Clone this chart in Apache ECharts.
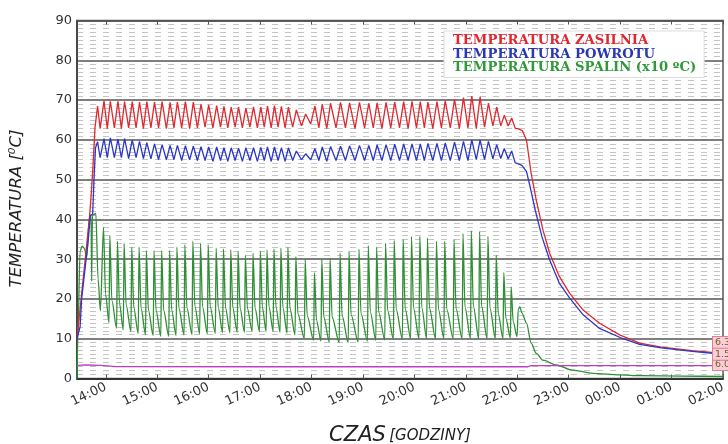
<!DOCTYPE html>
<html><head><meta charset="utf-8">
<script src="https://cdn.jsdelivr.net/npm/echarts@6/dist/echarts.min.js"></script>
<style>html,body{margin:0;padding:0;background:#fff}#c{width:728px;height:444px}</style>
</head><body><div id="c"></div>
<script>
// hour ticks (14:00 .. 02:00 next day as 14..26)
const hourTicks = [14,15,16,17,18,19,20,21,22,23,24,25,26];
const seriesNames = ['TEMPERATURA ZASILNIA','TEMPERATURA POWROTU','TEMPERATURA SPALIN (x10 ºC)'];
const endTags = ['6.3','1.5','6.0'];

// supply temperature (red) [hour, °C]
const supplyTemp = [[13.44,10],[13.46,10.5],[13.52,20],[13.60,30],[13.68,40],[13.72,47],[13.735,47.5],[13.745,52],[13.79,63],[13.84,68.5],[13.89,62.8],
[13.965,69.8],[14.029,62.8],[14.088,69.7],[14.167,63],[14.236,69.7],[14.303,62.8],[14.365,69.6],[14.444,63],[14.514,69.6],[14.589,63],
[14.656,69.5],[14.731,62.8],[14.798,69.6],[14.877,63],[14.947,69.5],[15.026,63],[15.095,69.6],[15.178,62.8],[15.250,69.4],[15.325,63],
[15.392,69.5],[15.475,63],[15.547,69.6],[15.630,62.8],[15.702,69.5],[15.781,63],[15.851,69],[15.930,63.2],[16.000,68.8],[16.083,63],
[16.155,68.6],[16.230,63.2],[16.297,68.4],[16.372,63],[16.439,68.2],[16.514,63.2],[16.581,68.2],[16.656,63],[16.723,68],[16.802,63.2],
[16.872,68.3],[16.947,63],[17.014,68.2],[17.081,63.2],[17.143,68.5],[17.215,63],[17.279,68.6],[17.350,63.2],[17.414,68.4],[17.486,63],
[17.550,68.2],[17.633,63.2],[17.705,67.5],[17.804,63.5],[17.886,66.5],[17.984,64],[18.066,68.5],[18.142,63],[18.209,69],[18.296,62.8],
[18.370,69.2],[18.476,63],[18.564,69.4],[18.659,63],[18.739,69.3],[18.845,62.8],[18.932,69.4],[19.031,63],[19.113,69.2],[19.200,63],
[19.275,69.3],[19.369,62.8],[19.449,69.4],[19.540,63],[19.617,69.5],[19.711,63],[19.791,69.6],[19.878,62.8],[19.953,69.7],[20.040,63],
[20.115,69.6],[20.194,63],[20.263,69.5],[20.358,62.8],[20.438,69.6],[20.525,63],[20.599,69.8],[20.698,63],[20.780,70.2],[20.874,62.8],
[20.954,70.6],[21.041,63],[21.116,71],[21.203,62.8],[21.277,70.8],[21.364,63.2],[21.439,69.2],[21.526,63.5],[21.600,68.2],[21.679,63.5],
[21.748,66.2],[21.824,63.5],[21.891,65.5],[21.96,62.9],
[22.01,62.8],[22.1,62.3],[22.18,59.9],[22.27,51.6],[22.37,44.8],[22.50,37.3],[22.63,31.5],[22.82,25.6],[23.02,21.4],[23.28,17.2],
[23.6,13.9],[24.0,10.9],[24.38,8.9],[24.8,7.9],[25.4,7.0],[26,6.3]];

// return temperature (blue)
const returnTemp = [[13.44,10],[13.47,10.5],[13.50,13],[13.53,20],[13.60,28],[13.66,35],[13.70,41],[13.745,41.3],[13.77,50],[13.80,58],[13.84,59.5],[13.89,55.5],
[13.965,60.3],[14.029,55.5],[14.088,60.5],[14.167,55.5],[14.236,60.2],[14.303,55.5],[14.365,60.3],[14.444,55.3],[14.514,60],[14.589,55.5],
[14.656,59.6],[14.731,55.3],[14.798,59.3],[14.877,55.2],[14.947,59],[15.026,55],[15.095,58.8],[15.178,55],[15.250,58.6],[15.325,55],
[15.392,58.6],[15.475,54.8],[15.547,58.5],[15.630,55],[15.702,58.4],[15.781,54.8],[15.851,58.3],[15.930,54.8],[16.000,58.2],[16.083,54.6],
[16.155,58.2],[16.230,54.8],[16.297,58],[16.372,54.6],[16.439,58],[16.514,54.8],[16.581,57.9],[16.656,54.6],[16.723,58],[16.802,54.8],
[16.872,58],[16.947,54.6],[17.014,58.1],[17.081,54.8],[17.143,58.2],[17.215,54.6],[17.279,58.2],[17.350,54.8],[17.414,58],[17.486,54.6],
[17.550,58],[17.633,54.8],[17.705,57.2],[17.804,55],[17.886,56.5],[17.984,55],[18.066,57.8],[18.142,54.8],[18.209,58.2],[18.296,54.6],
[18.370,58.3],[18.476,54.8],[18.564,58.4],[18.659,54.8],[18.739,58.5],[18.845,54.8],[18.932,58.6],[19.031,54.8],[19.113,58.6],[19.200,54.8],
[19.275,58.7],[19.369,54.8],[19.449,58.8],[19.540,54.8],[19.617,58.9],[19.711,54.8],[19.791,59],[19.878,54.8],[19.953,59],[20.040,54.8],
[20.115,59],[20.194,54.8],[20.263,59.1],[20.358,54.8],[20.438,59.1],[20.525,54.8],[20.599,59.2],[20.698,54.8],[20.780,59.4],[20.874,54.8],
[20.954,59.6],[21.041,54.8],[21.116,60],[21.203,55],[21.277,60],[21.364,55],[21.439,59.6],[21.526,55.2],[21.600,58.8],[21.679,55.3],
[21.748,57.8],[21.824,55.2],[21.891,57.2],[21.96,54.2],
[22.01,54],[22.09,53.6],[22.18,52],[22.25,48.2],[22.35,42.3],[22.48,35.6],[22.63,29.8],[22.82,23.9],[23.02,20.2],[23.28,16],
[23.6,12.6],[24.0,10.3],[24.38,8.6],[24.8,7.7],[25.4,6.8],[26,6.1]];

// flue gas temperature (green, x10 °C)
const flueGasTemp = [[13.44,0],[13.455,10],[13.50,32],[13.54,33.3],[13.58,32.8],[13.63,30.5],[13.68,40.5],[13.715,41],[13.725,24.5],[13.74,41],[13.806,41.5],[13.85,25],[13.895,17],
[13.955,38],[13.995,21.2],[14.063,14],[14.078,36],[14.118,19.6],[14.211,12.6],[14.226,34.5],[14.266,18.9],[14.340,12.2],
[14.355,34],[14.395,18.5],[14.489,11.8],[14.504,33],[14.544,17.8],[14.631,11.3],[14.646,33],[14.686,17.6],[14.773,11],
[14.788,32.2],[14.828,17.2],[14.922,10.8],[14.937,32.2],[14.977,17.1],[15.070,10.6],[15.085,32.2],[15.125,17.1],[15.225,10.6],
[15.240,32.2],[15.280,17.2],[15.367,10.8],[15.382,33],[15.422,17.6],[15.522,11],[15.537,33.6],[15.577,17.8],[15.677,11],
[15.692,34.5],[15.732,18.2],[15.826,11.2],[15.841,34],[15.881,18],[15.975,11.2],[15.990,33.6],[16.030,18],[16.130,11.3],
[16.145,32.8],[16.185,17.9],[16.272,11.5],[16.287,32.6],[16.327,17.8],[16.414,11.5],[16.429,32.4],[16.469,17.8],[16.556,11.6],
[16.571,32],[16.611,17.7],[16.698,11.6],[16.713,31],[16.753,17.6],[16.847,11.8],[16.862,31.5],[16.902,17.7],[16.989,11.8],
[17.004,32],[17.044,17.9],[17.118,11.8],[17.133,32.3],[17.173,18],[17.254,11.8],[17.269,32.6],[17.309,17.9],[17.389,11.6],
[17.404,32.8],[17.444,17.8],[17.525,11.4],[17.540,33],[17.580,17.6],[17.680,11],[17.695,30.7],[17.735,16.2],[17.861,10],
[17.876,30],[17.916,15.7],[18.041,9.6],[18.056,26.6],[18.096,14.6],[18.184,9.4],[18.199,30],[18.239,15.4],[18.345,9.2],
[18.360,30.3],[18.400,15.4],[18.539,9],[18.554,31.5],[18.594,15.8],[18.714,9],[18.729,32],[18.769,16],[18.907,9.2],
[18.922,32.5],[18.962,16.3],[19.088,9.4],[19.103,33.4],[19.143,16.7],[19.250,9.6],[19.265,33],[19.305,16.7],[19.424,9.7],
[19.439,34],[19.479,17.1],[19.592,9.8],[19.607,34.7],[19.647,17.3],[19.766,9.9],[19.781,35],[19.821,17.5],[19.928,10],
[19.943,35.7],[19.983,17.7],[20.090,10],[20.105,35.7],[20.145,17.7],[20.238,10],[20.253,35.3],[20.293,17.6],[20.413,10],
[20.428,34.5],[20.468,17.4],[20.574,10],[20.589,34.5],[20.629,17.4],[20.755,10],[20.770,35],[20.810,17.5],[20.929,10],
[20.944,36.4],[20.984,17.9],[21.091,10],[21.106,37.2],[21.146,18.2],[21.252,10],[21.267,37],[21.307,18.1],[21.414,10],
[21.429,35.7],[21.469,17.7],[21.575,10],[21.590,31],[21.630,16.3],[21.723,10],[21.738,26.6],[21.778,15.1],[21.866,10.2],
[21.881,23],[21.921,14.3],[21.995,10.5],
[22.02,17.5],[22.05,18],[22.09,16.5],[22.18,13.9],[22.27,8.9],[22.37,6.3],[22.50,4.6],[22.76,3.4],[23.08,2.1],[23.47,1.3],
[23.99,0.9],[24.4,0.7],[25.2,0.6],[26,0.5]];

// fourth trace (magenta)
const auxTemp = [[13.44,3.3],[13.6,3.4],[13.9,3.3],[14.2,3.0],[17,2.95],[22.2,2.95],[22.27,3.25],[26,3.25]];

const FONT = 'DejaVu Sans';
function hourLabel(v){ const h = Math.round(v) % 24; return (h < 10 ? '0' : '') + h + ':00'; }
function tagLabel(text, dy){
  return { show: true, formatter: () => text, distance: 0, offset: [-10, dy], fontSize: 9.5, fontFamily: FONT,
    color: '#7a5a2a', backgroundColor: '#f9cfd6', borderColor: '#e07d90', borderWidth: 1, padding: [1, 2, 0, 2] };
}

const chart = echarts.init(document.getElementById('c'), null, {renderer: 'canvas'});
chart.setOption({
  animation: false,
  backgroundColor: '#fff',
  grid: { left: 77, right: 5, top: 20.5, bottom: 65.5, show: true, borderColor: '#555', borderWidth: 1.5, backgroundColor: '#fff',
          outerBoundsMode: 'none', containLabel: false },
  legend: {
    data: [
      { name: seriesNames[0], textStyle: { color: '#e0282e' } },
      { name: seriesNames[1], textStyle: { color: '#2a37b5' } },
      { name: seriesNames[2], textStyle: { color: '#2f9a3a' } }
    ],
    orient: 'vertical', left: 444, top: 31, icon: 'none', itemWidth: 0, itemHeight: 10, itemGap: 0,
    padding: [3, 8, 3, 4], backgroundColor: '#fff', borderColor: '#ddd', borderWidth: 1,
    textStyle: { fontFamily: 'DejaVu Serif', fontWeight: 'bold', fontSize: 13.2, lineHeight: 13.5 }
  },
  xAxis: [{
    type: 'value', min: 13.44, max: 26, position: 'bottom',
    name: '{a|CZAS} {b|[GODZINY]}', nameLocation: 'middle', nameGap: 47,
    nameTextStyle: { rich: { a: { fontSize: 21, fontStyle: 'italic', fontFamily: FONT, color: '#222' },
                             b: { fontSize: 15, fontStyle: 'italic', fontFamily: FONT, color: '#222' } } },
    axisLine: { show: true, lineStyle: { color: '#333', width: 2 } },
    axisTick: { show: true, inside: true, length: 4, customValues: hourTicks, lineStyle: { color: '#555' } },
    axisLabel: { customValues: hourTicks, formatter: hourLabel, rotate: 25, margin: 8, fontSize: 13, fontFamily: FONT, color: '#333' },
    splitLine: { show: false }
  }, {
    type: 'value', min: 13.44, max: 26, position: 'top',
    axisLine: { show: true, lineStyle: { color: '#555', width: 1.5 } },
    axisTick: { show: true, inside: true, length: 4, customValues: hourTicks, lineStyle: { color: '#555' } },
    axisLabel: { show: false }, splitLine: { show: false }
  }],
  yAxis: {
    type: 'value', min: 0, max: 90, interval: 10,
    name: 'TEMPERATURA [⁰C]', nameLocation: 'middle', nameGap: 52,
    nameTextStyle: { fontSize: 16.5, fontStyle: 'italic', fontFamily: FONT, color: '#222', padding: [0, 18, 0, 0] },
    axisLine: { show: true, lineStyle: { color: '#333', width: 1.5 } },
    axisTick: { show: false },
    axisLabel: { fontSize: 13, fontFamily: FONT, color: '#333', margin: 5 },
    splitLine: { show: true, lineStyle: { color: '#555', width: 1.5 } },
    minorTick: { show: false, splitNumber: 10 },
    minorSplitLine: { show: true, lineStyle: { color: '#c4c4c4', width: 1, type: [6, 7] } }
  },
  series: [
    { name: seriesNames[2], type: 'line', data: flueGasTemp, showSymbol: false, smooth: 0.3, smoothMonotone: 'x',
      lineStyle: { color: '#2f8f35', width: 1.3 }, itemStyle: { color: '#2f9a3a' }, z: 2 },
    { name: seriesNames[0], type: 'line', data: supplyTemp, showSymbol: false, lineStyle: { color: '#e0282e', width: 1.3 }, itemStyle: { color: '#e0282e' }, z: 3,
      endLabel: tagLabel(endTags[0], -11) },
    { name: seriesNames[1], type: 'line', data: returnTemp, showSymbol: false, lineStyle: { color: '#2a37c8', width: 1.3 }, itemStyle: { color: '#2a37b5' }, z: 4,
      endLabel: tagLabel(endTags[1], 0) },
    { name: 'aux', type: 'line', data: auxTemp, showSymbol: false, lineStyle: { color: '#c03cc0', width: 1.3 }, itemStyle: { color: '#c03cc0' }, z: 2,
      endLabel: tagLabel(endTags[2], -1) }
  ]
});
</script></body></html>
